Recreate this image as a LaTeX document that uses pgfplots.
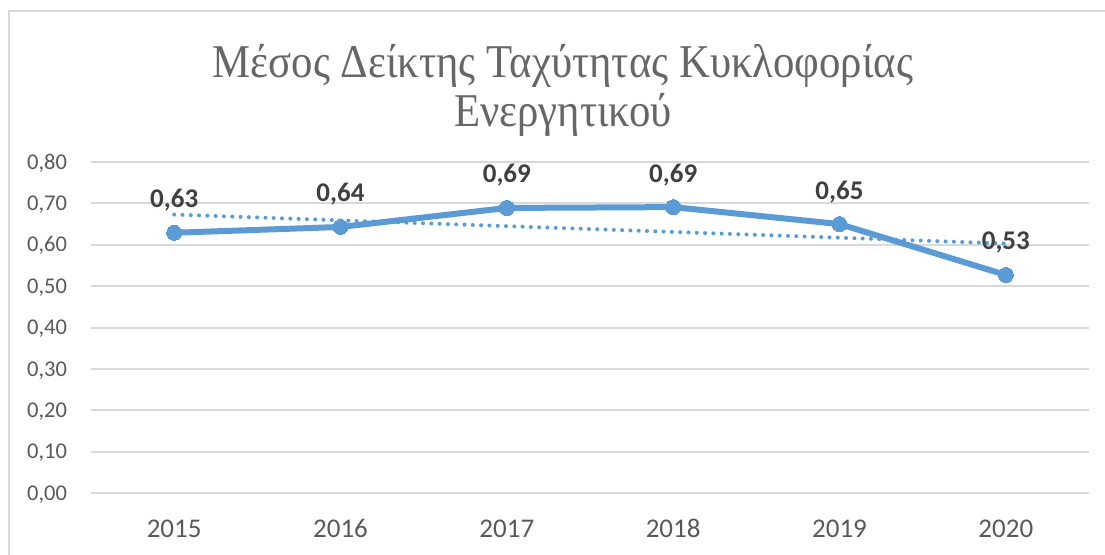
\documentclass[border=0pt]{standalone}
\usepackage{pgfplots}
\pgfplotsset{compat=1.18}
\usepackage{fontspec}
\setmainfont{Carlito}
\newfontfamily\titlefont[FakeStretch=0.91]{Liberation Serif}
\definecolor{lineblue}{HTML}{5B9BD5}
\definecolor{gridgray}{HTML}{D9D9D9}
\definecolor{ticktext}{HTML}{595959}
\definecolor{labeltext}{HTML}{404040}
\definecolor{titletext}{HTML}{666666}
\begin{document}
\begin{tikzpicture}
\useasboundingbox (0,0) rectangle (552.5pt,-277.5pt);
\draw[gridgray, line width=0.9pt] (4.5pt,-277.5pt) -- (4.5pt,-5.5pt) -- (552.5pt,-5.5pt);
\node[font=\titlefont\fontsize{23.5}{26}\selectfont, text=titletext, anchor=base] at (281.5pt,-39pt) {Μέσος Δείκτης Ταχύτητας Κυκλοφορίας};
\node[font=\titlefont\fontsize{23.5}{26}\selectfont, text=titletext, anchor=base] at (281.5pt,-63.5pt) {Ενεργητικού};
\begin{axis}[
  at={(45.5pt,-246.5pt)}, anchor=south west,
  scale only axis, width=499pt, height=165.5pt,
  xmin=-0.5, xmax=5.5, ymin=0, ymax=0.8,
  axis line style={draw=none},
  major tick length=0pt,
  xtick={0,1,2,3,4,5},
  xticklabels={2015,2016,2017,2018,2019,2020},
  ytick={0,0.1,0.2,0.3,0.4,0.5,0.6,0.7,0.8},
  ymajorgrids,
  grid style={gridgray, line width=1pt},
  /pgf/number format/.cd, assume math mode=true, fixed, fixed zerofill, precision=2, use comma,
  /pgfplots/.cd,
  yticklabel style={anchor=base east, inner sep=0pt, xshift=-11.8pt, yshift=-3.6pt,
    font=\fontsize{11.25}{13}\selectfont, text=ticktext},
  xticklabel style={anchor=base, inner sep=0pt, yshift=-22.5pt,
    font=\fontsize{13.5}{15}\selectfont, text=ticktext},
  clip=false,
]
\addplot[lineblue, line width=2pt, line cap=round, dash pattern=on 0pt off 4.15pt]
  coordinates {(0,0.673) (5,0.603)};
\addplot[lineblue, line width=3pt, line join=round,
  mark=*, mark size=3.75pt, mark options={solid, fill=lineblue, draw=lineblue, line width=0pt},
  nodes near coords,
  every node near coord/.append style={anchor=base, inner sep=0pt, yshift=12.5pt,
    font=\bfseries\fontsize{13.5}{16}\selectfont, text=labeltext},
  ] coordinates {(0,0.629) (1,0.643) (2,0.689) (3,0.691) (4,0.650) (5,0.527)};
\end{axis}
\end{tikzpicture}
\end{document}
